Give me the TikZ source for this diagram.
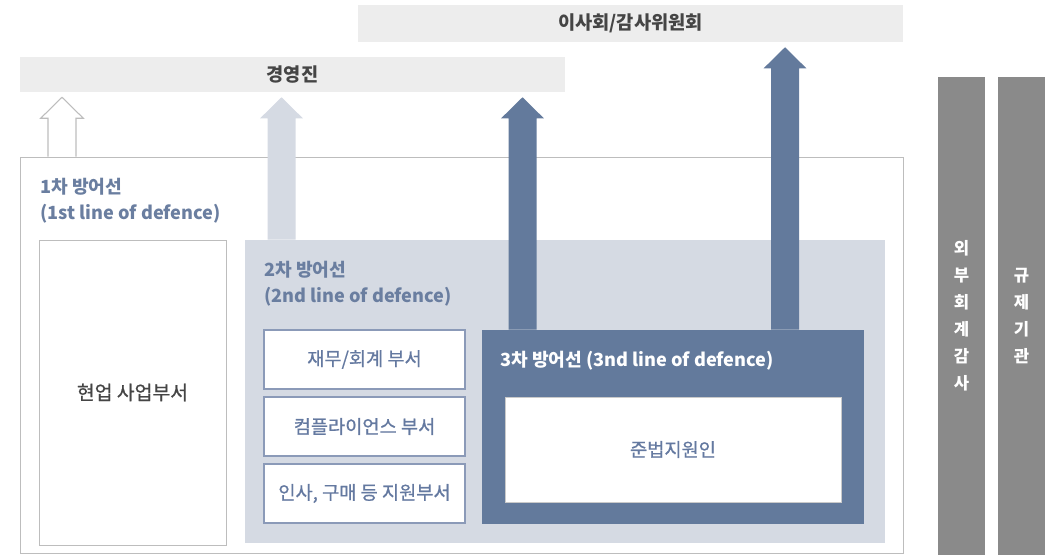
\documentclass[tikz,border=0pt]{standalone}
\usepackage{fontspec}
\setmainfont{Noto Sans CJK KR}
\newfontfamily\medfont[FakeBold=0.7]{Noto Sans CJK KR}
\usetikzlibrary{calc}

\definecolor{barbg}{HTML}{EDEDED}
\definecolor{paleblue}{HTML}{D5DAE3}
\definecolor{deepblue}{HTML}{637A9C}
\definecolor{sidegray}{HTML}{8A8A8A}
\definecolor{rimgray}{HTML}{BDBDBD}
\definecolor{labelblue}{HTML}{6A7EA0}
\definecolor{boxtext}{HTML}{6479A0}
\definecolor{darktext}{HTML}{454545}

\newcommand{\pu}{*0.75pt}

% block arrow: #1 style, #2 x coordinate, #3 lower node, #4 upper node
\newcommand{\blockarrow}[4]{%
  \path[#1] let \p1=(#2 |- #3.north), \p2=(#2 |- #4.south) in
    (\x1-10.5pt,\y1) -- (\x1-10.5pt,\y2-19.5pt) -- (\x1-16pt,\y2-19.5pt)
    -- (\x1,\y2-3.75pt) -- (\x1+16pt,\y2-19.5pt) -- (\x1+10.5pt,\y2-19.5pt)
    -- (\x1+10.5pt,\y1);
}

\begin{document}
\begin{tikzpicture}[
  x=0.75pt, y=-0.75pt,
  topbar/.style={fill=barbg, inner sep=0pt, text=darktext,
                 font=\bfseries\fontsize{14}{16}\selectfont},
  rim/.style={draw=rimgray, fill=white, inner sep=0pt},
  whitebox/.style={draw=rimgray, fill=white, inner sep=0pt, text=darktext,
                   font=\medfont\fontsize{14.5}{16}\selectfont},
  subbox/.style={draw=boxtext!75, line width=0.9pt, fill=white, inner sep=0pt,
                 minimum width=201\pu, minimum height=59\pu,
                 text=boxtext, font=\medfont\fontsize{14}{16}\selectfont},
  palebox/.style={fill=paleblue, inner sep=0pt},
  deepbox/.style={fill=deepblue, inner sep=0pt},
  sidebar/.style={fill=sidegray, inner sep=0pt, text=white, align=center,
                  minimum width=47\pu, minimum height=478\pu,
                  font=\bfseries\fontsize{12.5}{20.25}\selectfont},
  lbl/.style={inner sep=0pt, text=labelblue, align=left,
              font=\bfseries\fontsize{13.6}{19.5}\selectfont},
  hollow/.style={fill=white, draw=rimgray, line width=0.8pt},
  paleup/.style={fill=paleblue},
  deepup/.style={fill=deepblue}
]
\useasboundingbox (0,0) rectangle (1056,555);

% top bars
\node[topbar, minimum width=545\pu, minimum height=37\pu] (board) at (630.5,23.5) {이사회/감사위원회};
\node[topbar, minimum width=545\pu, minimum height=35\pu] (mgmt) at (292.5,74.5) {경영진};

% 1st line
\node[rim, minimum width=883\pu, minimum height=396\pu] (line1) at (461.5,355) {};
\node[lbl, anchor=north west] (l1txt) at (40,178) {1차 방어선\\(1st line of defence)};
\node[whitebox, minimum width=187\pu, minimum height=305\pu] (field) at (132.5,392.5) {현업 사업부서};

% 2nd line
\node[palebox, minimum width=640\pu, minimum height=303\pu] (line2) at (565,391.5) {};
\node[lbl, anchor=north west] (l2txt) at (264,261) {2차 방어선\\(2nd line of defence)};
\node[subbox] (fin) at (364.5,359.5) {재무/회계 부서};
\node[subbox] (comp) at (364.5,426.5) {컴플라이언스 부서};
\node[subbox] (supp) at (364.5,493.5) {인사, 구매 등 지원부서};

% 3rd line
\node[deepbox, minimum width=382\pu, minimum height=194\pu] (line3) at (673,427) {};
\node[lbl, text=white, anchor=west] (l3txt) at (500,361) {3차 방어선 (3nd line of defence)};
\node[whitebox, draw=rimgray!80, text=boxtext, font=\medfont\fontsize{14}{16}\selectfont,
      minimum width=336\pu, minimum height=105\pu] (officer) at (673,449.5) {준법지원인};

% outside bodies
\node[sidebar] (audit) at (961.5,316) {외\\부\\회\\계\\감\\사};
\node[sidebar] (reg) at (1021.5,316) {규\\제\\기\\관};

% reporting arrows
\coordinate (a1) at (62,0);
\coordinate (a2) at (281.5,0);
\coordinate (a3) at (522.5,0);
\coordinate (a4) at (785,0);
\blockarrow{hollow}{a1}{line1}{mgmt}
\blockarrow{paleup}{a2}{line2}{mgmt}
\blockarrow{deepup}{a3}{line3}{mgmt}
\blockarrow{deepup}{a4}{line3}{board}
\end{tikzpicture}
\end{document}
